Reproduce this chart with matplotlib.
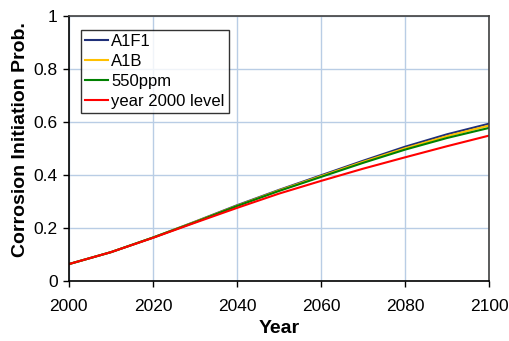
import matplotlib.pyplot as plt
import numpy as np

plt.rcParams['font.family'] = ['Liberation Sans', 'DejaVu Sans']

years = [2000, 2010, 2020, 2030, 2040, 2050, 2060, 2070, 2080, 2090, 2100]
a1f1 = [0.065, 0.110, 0.165, 0.225, 0.287, 0.345, 0.400, 0.455, 0.508, 0.555, 0.595]
a1b = [0.065, 0.110, 0.165, 0.224, 0.285, 0.343, 0.397, 0.451, 0.502, 0.548, 0.588]
ppm550 = [0.065, 0.110, 0.165, 0.223, 0.284, 0.341, 0.394, 0.447, 0.497, 0.541, 0.579]
lvl2000 = [0.065, 0.110, 0.164, 0.221, 0.277, 0.331, 0.379, 0.425, 0.468, 0.510, 0.550]

series = [('A1F1', a1f1, '#1F2F78'), ('A1B', a1b, '#FFC000'),
          ('550ppm', ppm550, '#008000'), ('year 2000 level', lvl2000, '#FF0000')]

fig = plt.figure(figsize=(5.1, 3.41), dpi=100)
ax = fig.add_axes([0.135, 0.175, 0.824, 0.777])

for name, vals, col in series:
    ax.plot(years, vals, color=col, lw=1.5, label=name)

ax.set_xlim(2000, 2100)
ax.set_ylim(0, 1)
ax.set_xticks(np.arange(2000, 2101, 20))
ax.set_yticks([0, 0.2, 0.4, 0.6, 0.8, 1])
ax.set_yticklabels(['0', '0.2', '0.4', '0.6', '0.8', '1'])
ax.grid(True, color='#B9CDE5', lw=1)
ax.set_axisbelow(True)
ax.tick_params(direction='out', length=4, labelsize=12.5, colors='black', width=1)
ax.tick_params(axis='x', pad=9)
ax.tick_params(axis='y', pad=4)
for s in ['left', 'bottom']:
    ax.spines[s].set_color('black')
    ax.spines[s].set_linewidth(1.2)
for s in ['top', 'right']:
    ax.spines[s].set_color('#404040')
    ax.spines[s].set_linewidth(1.2)

ax.set_xlabel('Year', fontsize=14, fontweight='bold', labelpad=4)
ax.set_ylabel('Corrosion Initiation Prob.', fontsize=14, fontweight='bold')
ax.yaxis.set_label_coords(-0.095, 0.535)

leg = ax.legend(loc='upper left', bbox_to_anchor=(0.028, 0.95), fontsize=12,
                frameon=True, fancybox=False, handlelength=1.4, handletextpad=0.2,
                borderpad=0.25, labelspacing=0.3, borderaxespad=0)
leg.get_frame().set_edgecolor('black')
leg.get_frame().set_linewidth(1)

fig.savefig('out.png', dpi=100)
